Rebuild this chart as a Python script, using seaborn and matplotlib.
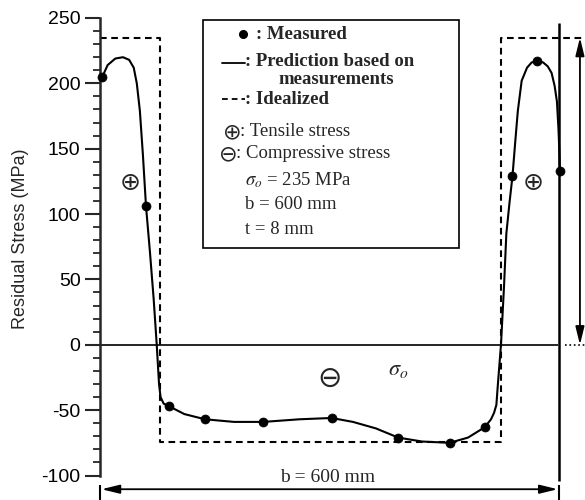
import matplotlib
matplotlib.use("Agg")
import matplotlib.pyplot as plt
import matplotlib.lines as mlines
import matplotlib.patches as mpatches
from matplotlib.ticker import MultipleLocator
import pandas as pd
import seaborn as sns

# measured residual stress across the plate width (mm, MPa)
meas_x = [3, 60, 90, 137, 213, 302, 389, 456, 502, 538, 570, 600]
meas_y = [205, 106, -47, -57, -59, -56, -71, -75, -63, 129, 217, 133]

# prediction curve
pred_x = [3, 10, 20, 30, 38, 44, 48, 52, 56, 60, 65, 70, 74, 77, 79, 83, 90,
          110, 137, 175, 213, 260, 302, 330, 360, 389, 420, 456, 480, 502,
          510, 514, 517, 519, 521, 523, 527, 530, 534, 538, 542, 545, 550,
          557, 563, 570, 578, 584, 589, 593, 596, 598, 599, 600]
pred_y = [205, 214, 219, 220, 218, 212, 200, 179, 145, 106, 72, 35, 0, -30,
          -40, -45, -47, -53, -57, -59, -59, -57, -56, -59, -64, -71, -74,
          -75, -71, -63, -57, -52, -46, -30, -15, 0, 45, 85, 108, 129, 158,
          179, 202, 212, 216, 217, 216, 213, 208, 198, 186, 165, 150, 133]

# idealized block distribution
ideal_x = [0, 78, 78, 523, 523, 632]
ideal_y = [235, 235, -74, -74, 235, 235]

sigma_o = 235
b_width = 600
y_ticks = [-100, -50, 0, 50, 100, 150, 200, 250]

W, H = 585, 500


def fxy(px, py):
    # pixel position -> figure fraction
    return px / W, 1 - py / H


sns.set_theme(style="ticks")
plt.rcParams["font.family"] = ["Liberation Serif", "DejaVu Sans"]
plt.rcParams["mathtext.fontset"] = "stix"
plt.rcParams["axes.unicode_minus"] = False
plt.rcParams["lines.dashed_pattern"] = [3.2, 2.2]

fig = plt.figure(figsize=(W / 100, H / 100), dpi=100)
ax = fig.add_axes([100 / W, 1 - 475.5 / H, 485 / W, 457.5 / H])

pred_df = pd.DataFrame({"x": pred_x, "y": pred_y})
ideal_df = pd.DataFrame({"x": ideal_x, "y": ideal_y})
meas_df = pd.DataFrame({"x": meas_x, "y": meas_y})

sns.lineplot(data=ideal_df, x="x", y="y", sort=False, estimator=None,
             color="black", lw=1.5, linestyle="--", ax=ax)
sns.lineplot(data=pred_df, x="x", y="y", sort=False, estimator=None,
             color="black", lw=1.5, ax=ax)
sns.scatterplot(data=meas_df, x="x", y="y", s=42, color="black",
                edgecolor="black", zorder=5, ax=ax, clip_on=False)

ax.set_xlim(0, 632.6)
ax.set_ylim(-100, 250)
ax.set_yticks(y_ticks)
ax.yaxis.set_minor_locator(MultipleLocator(10))
ax.set_xticks([])
ax.set_xlabel("")
ax.set_ylabel("")
sns.despine(ax=ax, top=True, right=True, bottom=True)
ax.spines["left"].set_linewidth(1.8)
ax.tick_params(axis="y", which="major", direction="out", length=11, width=1.5,
               pad=3, labelsize=14, labelcolor="black")
ax.tick_params(axis="y", which="minor", direction="out", length=5, width=1.3)
for lab in ax.get_yticklabels():
    lab.set_family("Liberation Sans")

fig.text(*fxy(21, 239), "Residual Stress (MPa)", rotation=90, ha="center",
         va="center", fontsize=13, family="Liberation Sans")

# zero line, right edge line
ax.hlines(0, 0, 597, color="black", lw=1.2)
ax.hlines(0, 606, 632, color="black", lw=1.2, linestyles=":", clip_on=False)
ax.vlines(599, -104, 246, color="black", lw=1.8, clip_on=False)
ax.vlines([0, 599], -107, -120, color="black", lw=1.5, clip_on=False)

# b dimension arrow
ax.annotate("", xy=(2, -110.5), xytext=(597, -110.5),
            arrowprops=dict(arrowstyle="<|-|>,head_length=0.9,head_width=0.22",
                            color="black", lw=1.3, shrinkA=0, shrinkB=0),
            annotation_clip=False)
ax.text(297, -101.5, "b = %d mm" % b_width, ha="center", va="center",
        fontsize=14)

# sigma_o arrow
ax.annotate("", xy=(626, sigma_o), xytext=(626, 0),
            arrowprops=dict(arrowstyle="<|-|>,head_length=0.9,head_width=0.22",
                            color="black", lw=1.3, shrinkA=0, shrinkB=0),
            annotation_clip=False)
ax.text(389, -19.6, r"$\sigma_o$", ha="center", va="center", fontsize=16)

# sign symbols
ax.text(40, 124, "\u2295", ha="center", va="center", fontsize=18,
        family="DejaVu Sans")
ax.text(565, 124, "\u2295", ha="center", va="center", fontsize=18,
        family="DejaVu Sans")
ax.text(299, -26, "\u2296", ha="center", va="center", fontsize=21,
        family="DejaVu Sans")

# legend box
x0, y0 = fxy(203, 248)
x1, y1 = fxy(459, 20)
fig.add_artist(mpatches.Rectangle((x0, y0), x1 - x0, y1 - y0,
                                  transform=fig.transFigure, fill=False,
                                  lw=1.2, edgecolor="black"))
fig.add_artist(mlines.Line2D([fxy(243, 34)[0]], [fxy(243, 34)[1]], marker="o",
                             ms=5.5, color="black", transform=fig.transFigure))
fig.add_artist(mlines.Line2D([fxy(222, 0)[0], fxy(245, 0)[0]],
                             [fxy(0, 63)[1]] * 2, color="black", lw=1.3,
                             transform=fig.transFigure))
fig.add_artist(mlines.Line2D([fxy(222, 0)[0], fxy(245, 0)[0]],
                             [fxy(0, 99)[1]] * 2, color="black", lw=1.3,
                             linestyle="--", transform=fig.transFigure))

bold = dict(fontsize=13.5, fontweight="bold", va="center", ha="left")
norm = dict(fontsize=13.5, va="center", ha="left")
fig.text(*fxy(256, 34), ": Measured", **bold)
fig.text(*fxy(245, 62), ": Prediction based on", **bold)
fig.text(*fxy(278, 80), "measurements", **bold)
fig.text(*fxy(245, 99), ": Idealized", **bold)
fig.text(*fxy(232, 132), "\u2295", family="DejaVu Sans", fontsize=16,
         va="center", ha="center")
fig.text(*fxy(240, 132), ": Tensile stress", **norm)
fig.text(*fxy(228, 154), "\u2296", family="DejaVu Sans", fontsize=16,
         va="center", ha="center")
fig.text(*fxy(236, 154), ": Compressive stress", **norm)
fig.text(*fxy(245, 180), r"$\sigma_o$ = %d MPa" % sigma_o, **norm)
fig.text(*fxy(245, 205), "b = %d mm" % b_width, **norm)
fig.text(*fxy(245, 230), "t = 8 mm", **norm)

fig.savefig("out.png", dpi=100)
